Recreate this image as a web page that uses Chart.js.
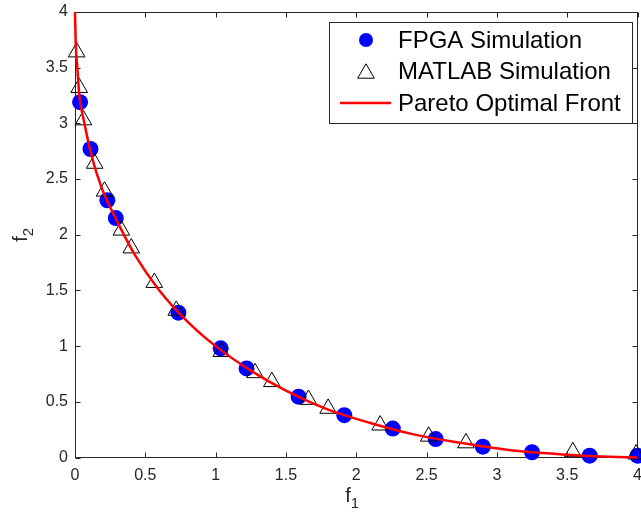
<!DOCTYPE html>
<html>
<head>
<meta charset="utf-8">
<title>Pareto front</title>
<script src="https://cdn.jsdelivr.net/npm/chart.js@4.4.1/dist/chart.umd.min.js"></script>
<style>
  body { margin: 0; background: #fff; }
</style>
</head>
<body>
<canvas id="pareto-chart" width="641" height="512"></canvas>
<script>
// values
const tickValues = [0, 0.5, 1, 1.5, 2, 2.5, 3, 3.5, 4];
const tickLabels = ['0', '0.5', '1', '1.5', '2', '2.5', '3', '3.5', '4'];

const fpgaF1 = [0.036, 0.11, 0.23, 0.29, 0.735, 1.036, 1.22, 1.59, 1.915, 2.26, 2.565, 2.90, 3.25, 3.66, 4.0];
const fpgaF2 = [3.19, 2.77, 2.31, 2.15, 1.30, 0.98, 0.80, 0.546, 0.38, 0.26, 0.165, 0.097, 0.047, 0.016, 0.016];

const matlabF1 = [0.012, 0.03, 0.06, 0.14, 0.21, 0.33, 0.40, 0.564, 0.72, 1.04, 1.28, 1.40, 1.66, 1.80, 2.17, 2.515, 2.78, 3.54, 3.99];
const matlabF2 = [3.64, 3.32, 3.03, 2.64, 2.39, 2.04, 1.88, 1.57, 1.32, 0.95, 0.76, 0.68, 0.52, 0.44, 0.29, 0.19, 0.13, 0.05, 0.03];

const frontF1 = [0, 0.005, 0.016, 0.031, 0.064, 0.12, 0.19, 0.3, 0.43, 0.6, 0.8, 1.0, 1.25, 1.5, 1.8, 2.1, 2.4, 2.75, 3.1, 3.5, 3.8, 4.0];
const frontF2 = [4.0, 3.72, 3.51, 3.25, 3.02, 2.70, 2.42, 2.12, 1.81, 1.50, 1.22, 1.0, 0.78, 0.60, 0.43, 0.31, 0.21, 0.13, 0.065, 0.025, 0.006, 0.0];

const seriesLabels = ['FPGA Simulation', 'MATLAB Simulation', 'Pareto Optimal Front'];

// axis titles: letter plus subscript
const xTitle = ['f', '1'];
const yTitle = ['f', '2'];

function toPoints(xs, ys) {
    return xs.map((v, i) => ({ x: v, y: ys[i] }));
}

// box round the plot with inward ticks on all four sides
const framePlugin = {
    id: 'frame',
    beforeDatasetsDraw(chart) {
        const { ctx, chartArea: a, scales } = chart;
        const l = Math.round(a.left) + 0.5, r = Math.round(a.right) - 0.5;
        const t = Math.round(a.top) + 0.5, b = Math.round(a.bottom) - 0.5;
        ctx.save();
        ctx.strokeStyle = '#262626';
        ctx.lineWidth = 1;
        ctx.strokeRect(l, t, r - l, b - t);
        ctx.beginPath();
        scales.x.ticks.forEach(tk => {
            const px = Math.round(scales.x.getPixelForValue(tk.value)) + 0.5;
            ctx.moveTo(px, b); ctx.lineTo(px, b - 5);
            ctx.moveTo(px, t); ctx.lineTo(px, t + 5);
        });
        scales.y.ticks.forEach(tk => {
            const py = Math.round(scales.y.getPixelForValue(tk.value)) + 0.5;
            ctx.moveTo(l, py); ctx.lineTo(l + 5, py);
            ctx.moveTo(r, py); ctx.lineTo(r - 5, py);
        });
        ctx.stroke();
        ctx.restore();
    }
};

// f with a subscript digit, drawn as text
function drawSubTitle(ctx, parts) {
    ctx.font = '20px "Liberation Sans", Arial, sans-serif';
    const w1 = ctx.measureText(parts[0]).width;
    ctx.font = '15px "Liberation Sans", Arial, sans-serif';
    const w2 = ctx.measureText(parts[1]).width;
    const x0 = -(w1 + w2) / 2;
    ctx.font = '20px "Liberation Sans", Arial, sans-serif';
    ctx.fillText(parts[0], x0, 0);
    ctx.font = '15px "Liberation Sans", Arial, sans-serif';
    ctx.fillText(parts[1], x0 + w1, 6);
}

const titlePlugin = {
    id: 'axisTitles',
    afterDraw(chart) {
        const { ctx, chartArea: a } = chart;
        ctx.save();
        ctx.fillStyle = '#262626';
        ctx.textBaseline = 'alphabetic';
        ctx.textAlign = 'left';
        ctx.save();
        ctx.translate((a.left + a.right) / 2 - 4, 502);
        drawSubTitle(ctx, xTitle);
        ctx.restore();
        ctx.save();
        ctx.translate(27, (a.top + a.bottom) / 2);
        ctx.rotate(-Math.PI / 2);
        drawSubTitle(ctx, yTitle);
        ctx.restore();
        ctx.restore();
    }
};

// MATLAB style legend box, top right inside the axes
const legendPlugin = {
    id: 'boxLegend',
    afterDraw(chart) {
        const { ctx, chartArea: a } = chart;
        const ds = chart.data.datasets;
        const boxX = Math.round(a.right) - 309, boxY = Math.round(a.top) + 10, boxW = 303, boxH = 101;
        ctx.save();
        ctx.fillStyle = '#fff';
        ctx.fillRect(boxX, boxY, boxW, boxH);
        ctx.strokeStyle = '#262626';
        ctx.lineWidth = 1;
        ctx.strokeRect(boxX + 0.5, boxY + 0.5, boxW, boxH);

        const markX = boxX + 37;
        const textX = boxX + 69;
        const rows = [boxY + 18, boxY + 49, boxY + 81];
        ctx.font = '24px "Liberation Sans", Arial, sans-serif';
        ctx.textBaseline = 'middle';
        ctx.textAlign = 'left';

        // circle
        ctx.beginPath();
        ctx.arc(markX, rows[0], 7, 0, Math.PI * 2);
        ctx.fillStyle = ds[0].backgroundColor;
        ctx.fill();

        // triangle
        const r = 9.6;
        ctx.beginPath();
        ctx.moveTo(markX, rows[1] - r * 0.75);
        ctx.lineTo(markX + r * Math.sqrt(3) / 2, rows[1] + r * 0.75);
        ctx.lineTo(markX - r * Math.sqrt(3) / 2, rows[1] + r * 0.75);
        ctx.closePath();
        ctx.strokeStyle = ds[1].borderColor;
        ctx.stroke();

        // line
        ctx.beginPath();
        ctx.moveTo(boxX + 11, rows[2]);
        ctx.lineTo(boxX + 62, rows[2]);
        ctx.strokeStyle = ds[2].borderColor;
        ctx.lineWidth = 2.5;
        ctx.stroke();

        ctx.fillStyle = '#000';
        ds.forEach((d, i) => ctx.fillText(d.label, textX, rows[i] + 1));
        ctx.restore();
    }
};

const tickFont = { family: '"Liberation Sans", Arial, sans-serif', size: 16 };

const ctx = document.getElementById('pareto-chart').getContext('2d');
window.paretoChart = new Chart(ctx, {
    type: 'scatter',
    data: {
        datasets: [
            {
                label: seriesLabels[0],
                data: toPoints(fpgaF1, fpgaF2),
                pointStyle: 'circle',
                pointRadius: 8,
                backgroundColor: '#0000ff',
                borderColor: '#0000ff',
                borderWidth: 0,
                clip: false,
                order: 3
            },
            {
                label: seriesLabels[1],
                data: toPoints(matlabF1, matlabF2),
                pointStyle: 'triangle',
                pointRadius: 9.6,
                backgroundColor: 'rgba(0,0,0,0)',
                borderColor: '#000000',
                borderWidth: 1,
                clip: false,
                order: 2
            },
            {
                label: seriesLabels[2],
                type: 'line',
                data: toPoints(frontF1, frontF2),
                borderColor: '#ff0000',
                borderWidth: 2.5,
                pointRadius: 0,
                fill: false,
                cubicInterpolationMode: 'monotone',
                clip: false,
                order: 1
            }
        ]
    },
    options: {
        responsive: false,
        animation: false,
        events: [],
        layout: { autoPadding: false, padding: { left: 0, right: 3.5, top: 12, bottom: 0 } },
        plugins: {
            legend: { display: false },
            tooltip: { enabled: false }
        },
        scales: {
            x: {
                type: 'linear',
                min: 0,
                max: 4,
                afterBuildTicks: s => { s.ticks = tickValues.map(v => ({ value: v })); },
                afterFit: s => { s.height = 54.5; s.paddingLeft = 0; s.paddingRight = 0; },
                grid: { display: false, drawTicks: false },
                border: { display: false },
                ticks: { font: tickFont, color: '#262626', padding: 8, maxRotation: 0,
                         callback: (v, i) => tickLabels[i] },
                title: { display: false }
            },
            y: {
                type: 'linear',
                min: 0,
                max: 4,
                afterBuildTicks: s => { s.ticks = tickValues.map(v => ({ value: v })); },
                afterFit: s => { s.width = 75; s.paddingTop = 0; s.paddingBottom = 0; },
                grid: { display: false, drawTicks: false },
                border: { display: false },
                ticks: { font: tickFont, color: '#262626', padding: 7,
                         callback: (v, i) => tickLabels[i] },
                title: { display: false }
            }
        }
    },
    plugins: [framePlugin, titlePlugin, legendPlugin]
});
</script>
</body>
</html>
